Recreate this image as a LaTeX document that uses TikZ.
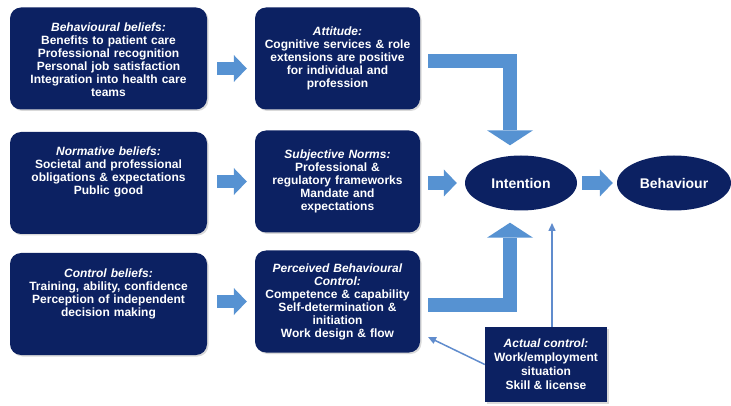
\documentclass[tikz,border=0pt]{standalone}
\usepackage{fontspec}
\setmainfont{Liberation Sans}
\usetikzlibrary{arrows.meta,shadows,shapes.geometric}
\definecolor{boxnavy}{RGB}{12,33,98}
\definecolor{arrowblue}{RGB}{86,146,210}
\definecolor{thinblue}{RGB}{96,140,205}

\begin{document}
\begin{tikzpicture}[x=1pt,y=-1pt,
        box/.style={fill=boxnavy, text=white, rounded corners=11pt, align=center,
            font=\bfseries\fontsize{12}{13}\selectfont,
            drop shadow={opacity=0.3, shadow xshift=1.5pt, shadow yshift=-1.5pt}},
        belief/.style={box, text width=185pt, inner xsep=6pt, inner ysep=10pt,
            text height=14pt, text depth=68pt},
        construct/.style={box, text width=151pt, inner xsep=7pt, minimum height=102pt},
        oval/.style={ellipse, fill=boxnavy, text=white, inner sep=0pt,
            font=\bfseries\fontsize{14}{16}\selectfont, minimum height=55pt},
        bigarrow/.style={draw=arrowblue, line width=13.5pt,
            -{Triangle[width=27pt, length=13pt, line width=0pt]}},
        elbowarrow/.style={draw=arrowblue, line width=14pt, line join=miter,
            -{Triangle[width=46pt, length=15pt, line width=0pt]}},
        thinarrow/.style={draw=thinblue, line width=1.5pt,
            -{Triangle[width=7pt, length=8pt]}}]
    \useasboundingbox (0,0) rectangle (731,406);

    %% beliefs
    \node[belief] (bb) at (108.5,58.5)
        {\textit{Behavioural beliefs:}\\ Benefits to patient care\\ Professional recognition\\
         Personal job satisfaction\\ Integration into health care\\ teams};
    \node[belief] (nb) at (108.5,183)
        {\textit{Normative beliefs:}\\ Societal and professional\\
         obligations \& expectations\\ Public good};
    \node[belief] (cb) at (108.5,304)
        {\textit{Control beliefs:}\\ Training, ability, confidence\\
         Perception of independent\\ decision making};

    %% constructs
    \node[construct] (att) at (337.5,58.5)
        {\textit{Attitude:}\\ Cognitive services \& role\\ extensions are positive\\
         for individual and\\ profession};
    \node[construct] (sn) at (337.5,181.5)
        {\textit{Subjective Norms:}\\ Professional \&\\ regulatory frameworks\\
         Mandate and\\ expectations};
    \node[construct] (pbc) at (337.5,301.5)
        {\textit{Perceived Behavioural}\\ \textit{Control:}\\ Competence \& capability\\
         Self-determination \&\\ initiation\\ Work design \& flow};

    %% intention, behaviour
    \node[oval, minimum width=112pt] (int) at (521,183) {Intention};
    \node[oval, minimum width=114pt] (beh) at (674,183) {Behaviour};

    %% actual control
    \node[box, rounded corners=0pt, minimum width=122pt, minimum height=75pt, inner sep=2pt,
        font=\bfseries\fontsize{12}{14}\selectfont] (ac) at (546,364.5)
        {\textit{Actual control:}\\ Work/employment\\ situation\\ Skill \& license};

    %% block arrows
    \draw[bigarrow, shorten <=10pt, shorten >=8pt] ([yshift=-10pt]bb.east) -- ([yshift=-10pt]att.west);
    \draw[bigarrow, shorten <=10pt, shorten >=8pt] (sn.west -| nb.east) -- (sn.west);
    \draw[bigarrow, shorten <=10pt, shorten >=8pt] (pbc.west -| cb.east) -- (pbc.west);
    \draw[bigarrow, shorten <=8pt, shorten >=8pt] (int.west -| sn.east) -- (int.west);
    \draw[bigarrow, shorten <=5pt, shorten >=4pt] (int) -- (beh);
    \draw[elbowarrow, shorten <=8pt]
        ([yshift=-3pt]att.east) -| ([xshift=-11pt,yshift=10pt]int.north);
    \draw[elbowarrow, shorten <=8pt]
        ([yshift=-3pt]pbc.east) -| ([xshift=-11pt,yshift=-12pt]int.south);

    %% thin arrows
    \coordinate (acup) at (552,223);
    \coordinate (pbcin) at (428,337);
    \draw[thinarrow] (ac.north -| acup) -- (acup);
    \draw[thinarrow] (ac.west) -- (pbcin);
\end{tikzpicture}
\end{document}
